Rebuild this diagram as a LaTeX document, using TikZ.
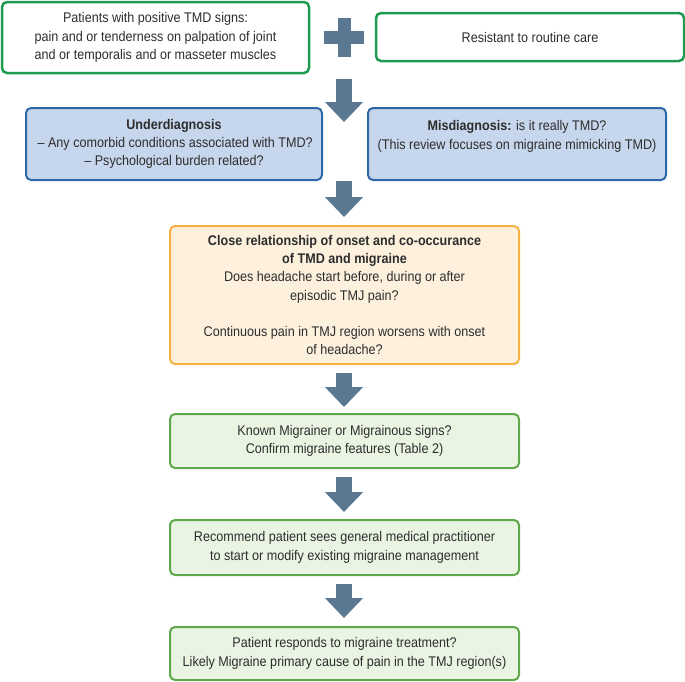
\documentclass[tikz,border=0pt]{standalone}
\usepackage{fontspec}
\setmainfont{Liberation Sans}[FakeStretch=0.9]
\usepackage{xcolor}
\usetikzlibrary{arrows.meta}
\definecolor{topgreen}{RGB}{30,155,80}
\definecolor{bluefill}{RGB}{198,214,236}
\definecolor{blueline}{RGB}{46,104,166}
\definecolor{orangefill}{RGB}{253,241,222}
\definecolor{orangeline}{RGB}{244,178,64}
\definecolor{greenfill}{RGB}{233,244,227}
\definecolor{greenline}{RGB}{95,168,75}
\definecolor{arrowc}{RGB}{90,120,145}
\definecolor{txt}{RGB}{45,45,45}

\tikzset{
  box/.style={rectangle, rounded corners=5pt, align=center, text=txt,
    font=\fontsize{14}{18.3}\selectfont, inner sep=0pt},
  topbox/.style={box, draw=topgreen, line width=2.5pt, fill=white},
  diagbox/.style={box, draw=blueline, line width=2pt, fill=bluefill},
  onsetbox/.style={box, draw=orangeline, line width=2pt, fill=orangefill},
  stepbox/.style={box, draw=greenline, line width=2pt, fill=greenfill,
    minimum width=349pt},
  fat/.style={draw=arrowc, line width=16pt, -{Triangle[length=20pt,width=37pt]}}
}

\begin{document}
\begin{tikzpicture}[x=1pt,y=-1pt]
  \useasboundingbox (0,0) rectangle (685,681);

  % first row
  \node [topbox, minimum width=307pt, minimum height=71pt] (tmd) at (155.5,37.5)
    {Patients with positive TMD signs:\\pain and or tenderness on palpation of joint\\and or temporalis and or masseter muscles};
  \node [topbox, minimum width=308pt, minimum height=48pt] (care) at (530,37)
    {Resistant to routine care};
  \coordinate (plus) at (344,37.5);
  \fill [arrowc] ([xshift=-6.5pt,yshift=19.5pt]plus) rectangle ([xshift=6.5pt,yshift=-19.5pt]plus);
  \fill [arrowc] ([xshift=-20pt,yshift=6.5pt]plus) rectangle ([xshift=20pt,yshift=-6.5pt]plus);

  % diagnosis row
  \node [diagbox, minimum width=296pt, minimum height=72pt] (under) at (174,144)
    {\textbf{Underdiagnosis}\\\,-- Any comorbid conditions associated with TMD?\\-- Psychological burden related?};
  \node [diagbox, minimum width=298pt, minimum height=72pt] (mis) at (517,144)
    {\textbf{Misdiagnosis:} is it really TMD?\\(This review focuses on migraine mimicking TMD)\\\mbox{}};

  % main column
  \node [onsetbox, minimum width=349pt, minimum height=138pt] (onset) at (344.5,295)
    {\textbf{Close relationship of onset and co-occurance}\\\textbf{of TMD and migraine}\\
     Does headache start before, during or after\\episodic TMJ pain?\\[18.3pt]
     Continuous pain in TMJ region worsens with onset\\of headache?};
  \node [stepbox, minimum height=54pt] (known) at (344.5,441)
    {Known Migrainer or Migrainous signs?\\Confirm migraine features (Table 2)};
  \node [stepbox, minimum height=55pt] (refer) at (344.5,547.5)
    {Recommend patient sees general medical practitioner\\to start or modify existing migraine management};
  \node [stepbox, minimum height=53pt] (respond) at (344.5,653.5)
    {Patient responds to migraine treatment?\\Likely Migraine primary cause of pain in the TMJ region(s)};

  % arrows
  \coordinate (a1) at (344,79);
  \coordinate (a1e) at (344,122);
  \draw [fat] (a1) -- (a1e);
  \draw [fat] (under.south -| plus) -- ([yshift=8pt]onset.north -| plus);
  \draw [fat] ([yshift=-8pt]onset.south -| plus) -- ([yshift=6pt]known.north -| plus);
  \draw [fat] ([yshift=-8pt]known.south -| plus) -- ([yshift=7pt]refer.north -| plus);
  \draw [fat] ([yshift=-8pt]refer.south -| plus) -- ([yshift=8pt]respond.north -| plus);
\end{tikzpicture}
\end{document}
